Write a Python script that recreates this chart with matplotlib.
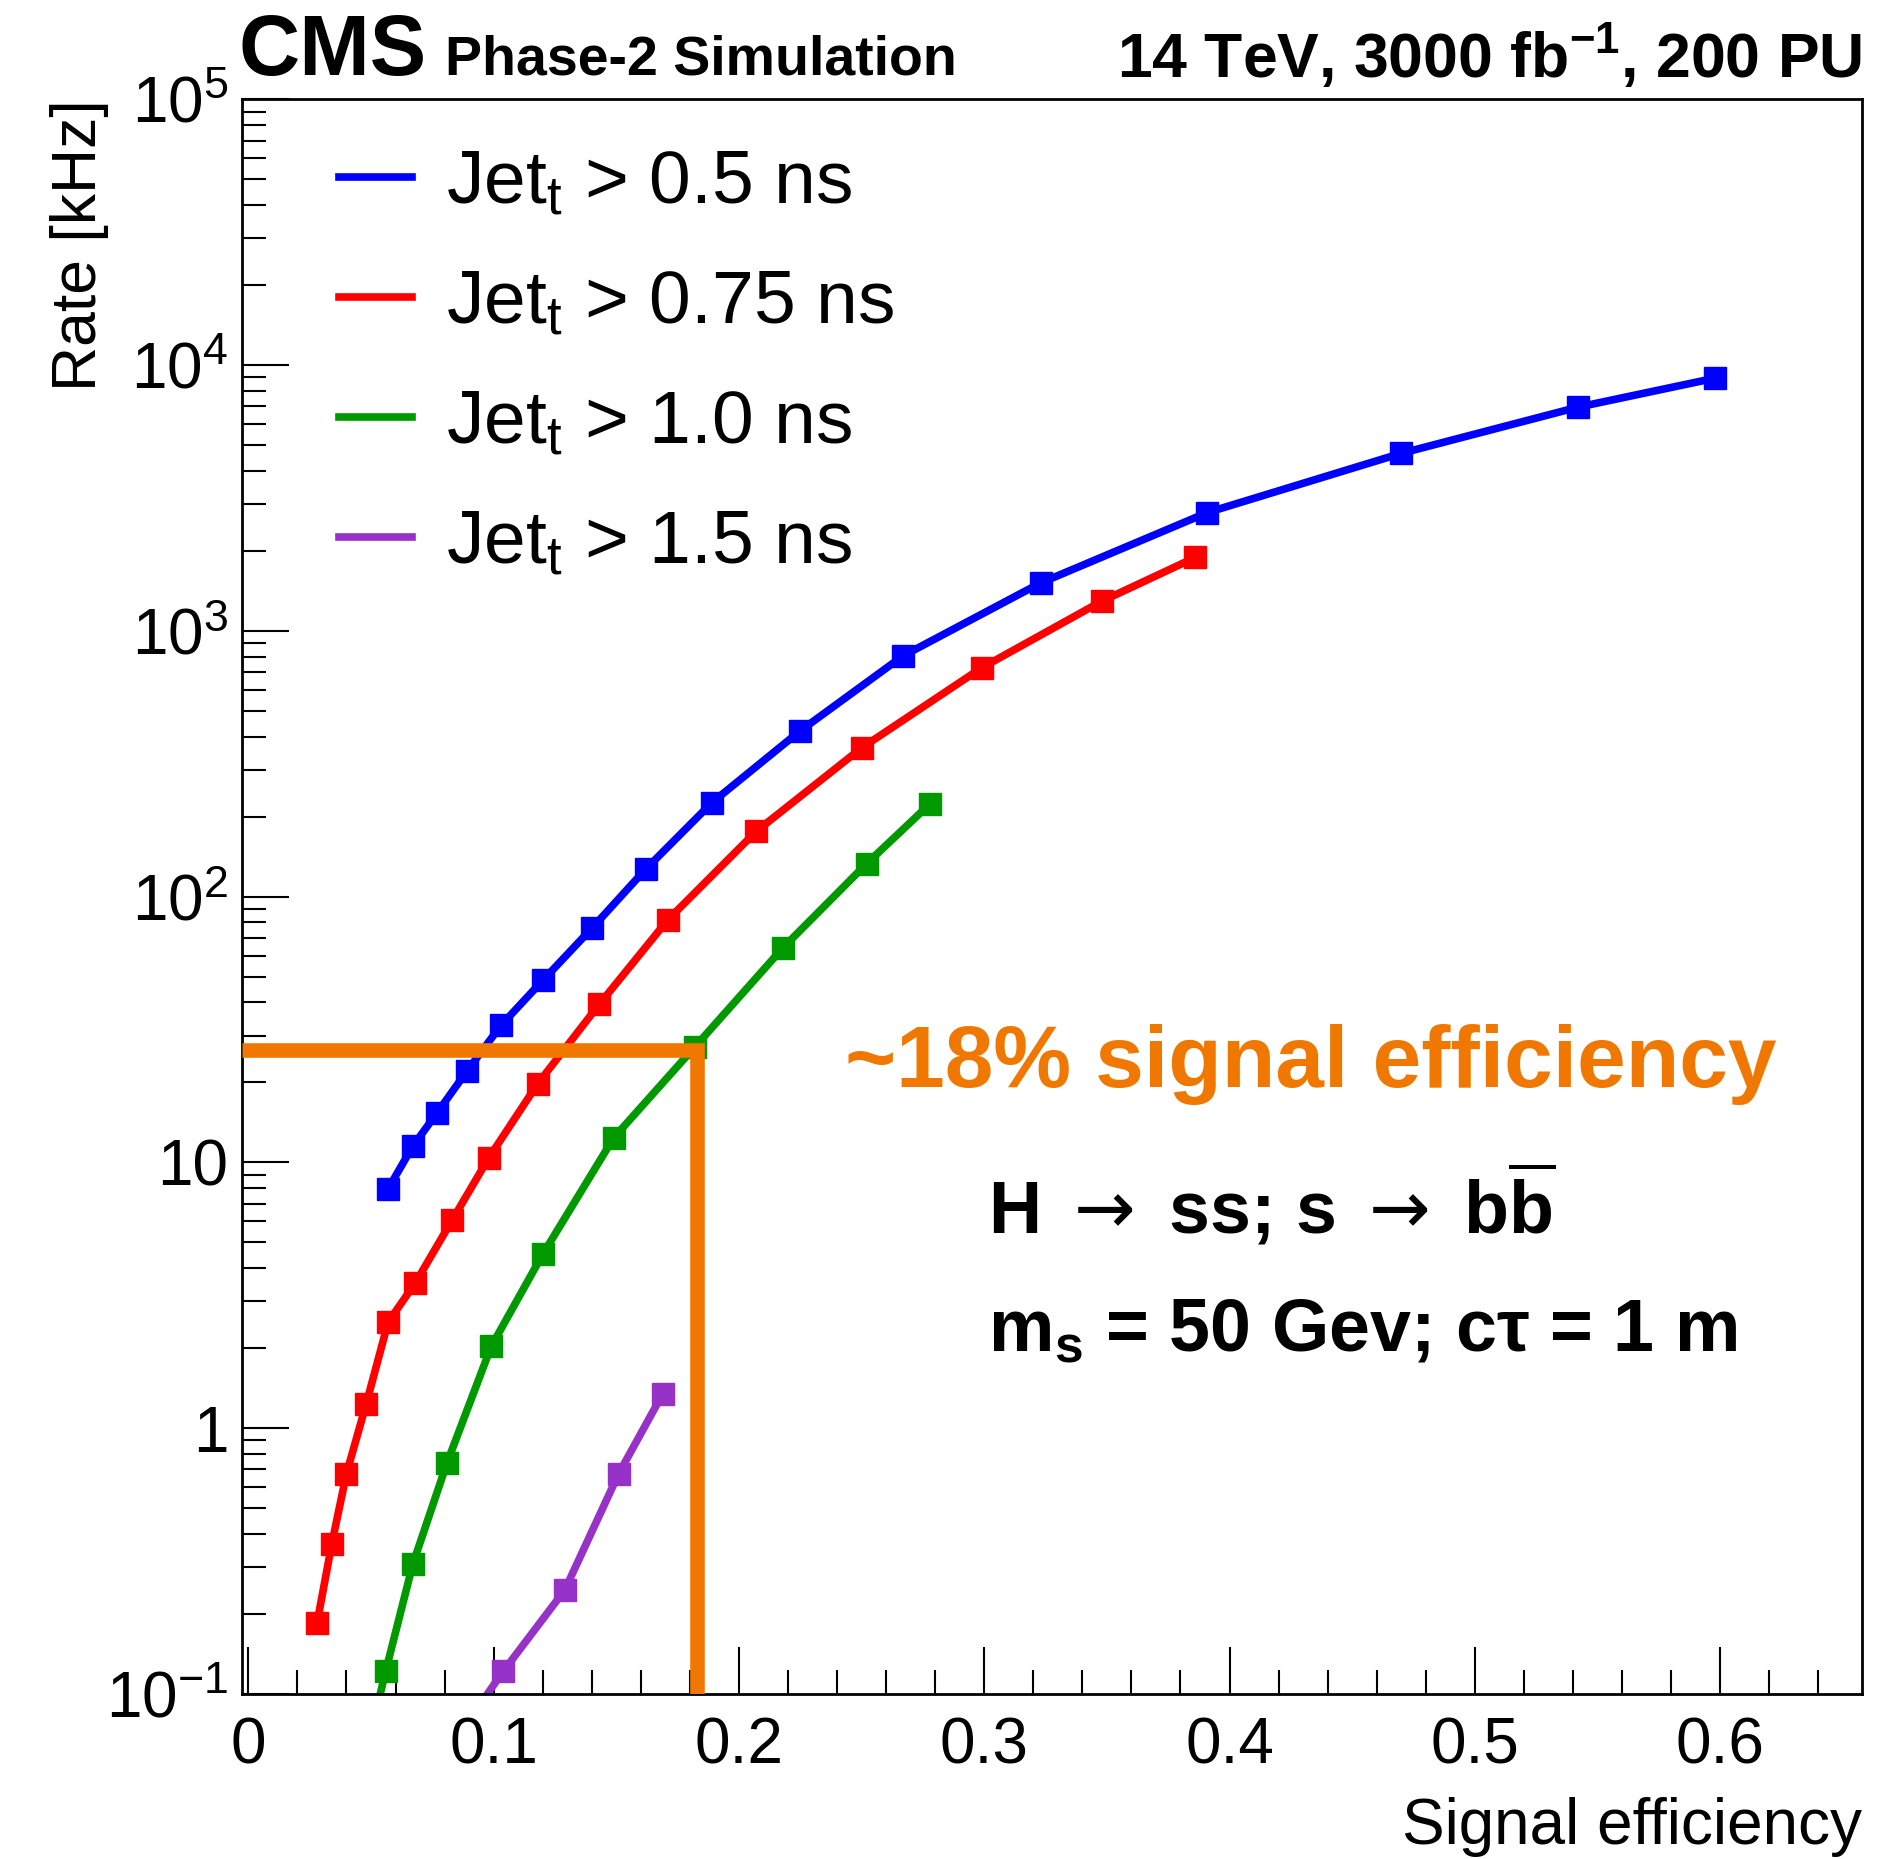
import matplotlib
matplotlib.use('Agg')
import matplotlib.pyplot as plt
from matplotlib.lines import Line2D
from matplotlib.ticker import LogLocator, MultipleLocator, NullFormatter

plt.rcParams['font.family'] = ['Liberation Sans', 'DejaVu Sans']
plt.rcParams['mathtext.fontset'] = 'custom'
plt.rcParams['mathtext.rm'] = 'Liberation Sans'
plt.rcParams['mathtext.it'] = 'Liberation Sans:italic'
plt.rcParams['mathtext.bf'] = 'Liberation Sans:bold'
plt.rcParams['mathtext.sf'] = 'DejaVu Sans'

# signal efficiency vs rate [kHz]
eff_05 = [0.057, 0.067, 0.077, 0.089, 0.103, 0.120, 0.140, 0.162, 0.189,
          0.225, 0.267, 0.323, 0.391, 0.470, 0.542, 0.598]
rate_05 = [7.96, 11.5, 15.4, 22.0, 32.8, 48.4, 76.0, 127, 226,
           421, 807, 1516, 2790, 4660, 6950, 8940]

eff_075 = [0.028, 0.034, 0.040, 0.048, 0.057, 0.068, 0.083, 0.098, 0.118,
           0.143, 0.171, 0.207, 0.250, 0.299, 0.348, 0.386]
rate_075 = [0.185, 0.367, 0.675, 1.23, 2.51, 3.51, 6.05, 10.4, 19.8,
            39.3, 81.8, 176, 363, 727, 1295, 1890]

eff_10 = [0.047, 0.056, 0.067, 0.081, 0.099, 0.120, 0.149, 0.182, 0.218,
          0.252, 0.278]
rate_10 = [0.055, 0.122, 0.307, 0.741, 2.03, 4.51, 12.4, 27.2, 64.3,
           133, 224]

eff_15 = [0.088, 0.104, 0.129, 0.151, 0.169]
rate_15 = [0.075, 0.122, 0.246, 0.675, 1.35]

series = [
    (eff_05, rate_05, '#0000FF', r'Jet$_{\mathregular{t}}$ > 0.5 ns'),
    (eff_075, rate_075, '#FF0000', r'Jet$_{\mathregular{t}}$ > 0.75 ns'),
    (eff_10, rate_10, '#009900', r'Jet$_{\mathregular{t}}$ > 1.0 ns'),
    (eff_15, rate_15, '#9632C8', r'Jet$_{\mathregular{t}}$ > 1.5 ns'),
]

# working point marked in orange
cut_eff = 0.183
cut_rate = 26.6

xticks = [0, 0.1, 0.2, 0.3, 0.4, 0.5, 0.6]
xtick_labels = ['0', '0.1', '0.2', '0.3', '0.4', '0.5', '0.6']
yticks = [0.1, 1, 10, 100, 1000, 10000, 100000]
ytick_labels = [r'$10^{-1}$', '1', '10', r'$10^{2}$', r'$10^{3}$',
                r'$10^{4}$', r'$10^{5}$']

xmin, xmax = -0.0025, 0.658
ymin, ymax = 0.1, 1e5
orange = '#F07800'

fig = plt.figure(figsize=(19, 18.59), dpi=100)
ax = fig.add_axes([0.1275, 0.0888, 0.8527, 0.8577])

for x, y, color, label in series:
    ax.plot(x, y, color=color, lw=5.5, marker='s', ms=16, mec=color, mfc=color)

ax.plot([xmin, cut_eff, cut_eff], [cut_rate, cut_rate, ymin], color=orange,
        lw=10.5, solid_joinstyle='miter', solid_capstyle='butt', zorder=5)

ax.set_yscale('log')
ax.set_xlim(xmin, xmax)
ax.set_ylim(ymin, ymax)

ax.set_xticks(xticks, xtick_labels)
ax.xaxis.set_minor_locator(MultipleLocator(0.02))
ax.set_yticks(yticks, ytick_labels)
ax.yaxis.set_minor_locator(LogLocator(subs=range(2, 10), numticks=20))
ax.yaxis.set_minor_formatter(NullFormatter())

ax.tick_params(which='both', direction='in', top=False, right=False, width=1.5)
ax.tick_params(which='major', length=34, labelsize=46)
ax.tick_params(which='minor', length=17)
ax.tick_params(axis='x', which='major', pad=16)
ax.tick_params(axis='y', which='major', pad=10)
for sp in ax.spines.values():
    sp.set_linewidth(2)

ax.set_xlabel('Signal efficiency', fontsize=46, loc='right', labelpad=15)
ax.set_ylabel('Rate [kHz]', fontsize=45, loc='top', labelpad=-2)

handles = [Line2D([], [], color=c, lw=5.5) for _, _, c, _ in series]
labels = [lab for _, _, _, lab in series]
ax.legend(handles, labels, loc='upper left', bbox_to_anchor=(0.06, 0.969),
          frameon=False, fontsize=54, handlelength=0.97, handletextpad=0.45,
          labelspacing=0.68, borderpad=0, borderaxespad=0)

ax.text(0.372, 0.3806, '~18% signal efficiency', transform=ax.transAxes,
        fontsize=63, fontweight='bold', color=orange, va='baseline')
ax.text(0.4605, 0.2887,
        r'H $\mathsf{\rightarrow}$ ss; s $\mathsf{\rightarrow}$ b$\overline{\mathbf{b}}$',
        transform=ax.transAxes, fontsize=53, fontweight='bold', va='baseline')
ax.text(0.4605, 0.215, r'm$_{\mathbf{s}}$ = 50 Gev; c$\mathregular{\tau}$ = 1 m',
        transform=ax.transAxes, fontsize=53, fontweight='bold', va='baseline')

fig.text(0.1256, 0.9597, 'CMS', fontsize=61, fontweight='bold', va='baseline')
fig.text(0.234, 0.9597, 'Phase-2 Simulation', fontsize=40, fontweight='bold',
         va='baseline')
fig.text(0.980, 0.9583, r'14 TeV, 3000 fb$^{\mathbf{-1}}$, 200 PU', fontsize=45,
         fontweight='bold', va='baseline', ha='right')

fig.savefig('out.png', dpi=100)
